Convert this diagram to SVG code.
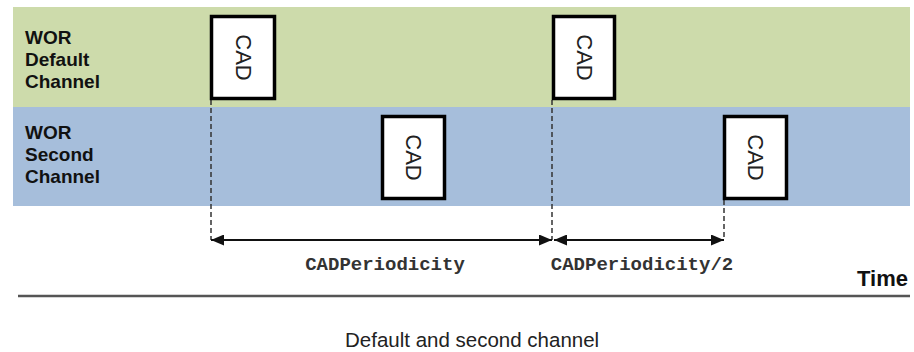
<svg xmlns="http://www.w3.org/2000/svg" width="914" height="352" viewBox="0 0 914 352">
<defs>
<style>
.lbl{font-family:"Liberation Sans",Arial,sans-serif;font-weight:bold;font-size:19px;fill:#111}
.cad{fill:#fff;stroke:#000;stroke-width:3.5}
.cadt{font-family:"Liberation Sans",Arial,sans-serif;font-size:22px;fill:#222}
.dash{stroke:#333;stroke-width:1.5;stroke-dasharray:5,3;fill:none}
.arr{stroke:#111;stroke-width:2;fill:none;marker-start:url(#ah);marker-end:url(#ah)}
.mono{font-family:"Liberation Mono","Courier New",monospace;font-weight:bold;font-size:19px;fill:#333}
</style>
<marker id="ah" viewBox="0 0 13 11" refX="13" refY="5.5" markerWidth="13" markerHeight="11" markerUnits="userSpaceOnUse" orient="auto-start-reverse">
<path d="M0,0 L13,5.5 L0,11 Z" fill="#111"/>
</marker>
</defs>
<rect x="13" y="7" width="897" height="100" fill="#cddbab"/>
<rect x="13" y="107" width="897" height="99" fill="#a6bedb"/>
<g id="lane-default">
<text class="lbl" x="25" y="44">WOR</text>
<text class="lbl" x="25" y="66">Default</text>
<text class="lbl" x="25" y="88">Channel</text>
</g>
<g id="lane-second">
<text class="lbl" x="25" y="139">WOR</text>
<text class="lbl" x="25" y="161">Second</text>
<text class="lbl" x="25" y="183">Channel</text>
</g>
<g id="connectors">
<line class="dash" x1="211" y1="100" x2="211" y2="240"/>
<line class="dash" x1="552" y1="100" x2="552" y2="240"/>
<line class="dash" x1="724" y1="200" x2="724" y2="240"/>
<line class="arr" x1="211" y1="240" x2="552" y2="240"/>
<line class="arr" x1="554" y1="240" x2="724" y2="240"/>
</g>
<g id="cad1">
<rect class="cad" x="211.5" y="16.5" width="63" height="82"/>
<text class="cadt" x="243" y="57.5" text-anchor="middle" dominant-baseline="central" transform="rotate(90 243 57.5)">CAD</text>
</g>
<g id="cad2">
<rect class="cad" x="553.5" y="16.5" width="61" height="82"/>
<text class="cadt" x="584" y="57.5" text-anchor="middle" dominant-baseline="central" transform="rotate(90 584 57.5)">CAD</text>
</g>
<g id="cad3">
<rect class="cad" x="382.5" y="116.5" width="62" height="82"/>
<text class="cadt" x="413.5" y="157.5" text-anchor="middle" dominant-baseline="central" transform="rotate(90 413.5 157.5)">CAD</text>
</g>
<g id="cad4">
<rect class="cad" x="724.5" y="116.5" width="62" height="82"/>
<text class="cadt" x="755.5" y="157.5" text-anchor="middle" dominant-baseline="central" transform="rotate(90 755.5 157.5)">CAD</text>
</g>
<g id="labels">
<text class="mono" x="385" y="270" text-anchor="middle">CADPeriodicity</text>
<text class="mono" x="642" y="270" text-anchor="middle">CADPeriodicity/2</text>
<text x="908" y="286" text-anchor="end" font-family="Liberation Sans, Arial, sans-serif" font-weight="bold" font-size="22" fill="#111">Time</text>
</g>
<line x1="18" y1="296" x2="910" y2="296" stroke="#555" stroke-width="2.5"/>
<text x="345" y="347" font-family="Liberation Sans, Arial, sans-serif" font-size="20.5" fill="#222">Default and second channel</text>
</svg>
